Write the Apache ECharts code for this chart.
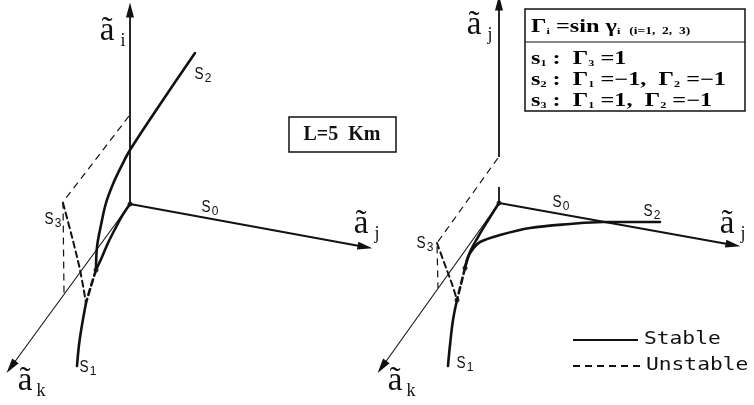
<!DOCTYPE html>
<html>
<head>
<meta charset="utf-8">
<script src="https://cdn.jsdelivr.net/npm/echarts@6/dist/echarts.min.js"></script>
<style>
  html, body { margin: 0; padding: 0; background: #fff; }
  #chart { width: 754px; height: 405px; }
</style>
</head>
<body>
<div id="chart"></div>
<script>
// ---- Left sketch (L = 5 km): coordinate axes, each [origin, arrow tip] ----
const axisI_L = [[130, 204], [130, 10]];
const axisJ_L = [[130, 204], [365, 247]];
const axisK_L = [[130, 204], [11, 367]];
const projection_L = [[129, 116], [63, 202], [64, 293]];

// ---- Left sketch: equilibrium branches ----
const s2_L = [[195, 53], [163, 100], [130, 150], [121, 167], [113, 184], [106, 203], [101, 225], [97, 247], [96, 270]];
const s1_L_stableUpper = [[130, 204], [122, 216], [115, 229], [108, 243], [102, 257], [96, 270]];
const s1_L_unstable = [[96, 270], [91, 286], [86, 303]];
const s1_L_stableLower = [[86, 303], [82, 325], [79, 345], [77, 366]];
const s3_L = [[63, 203], [72, 237], [80, 270], [86, 303]];

// ---- Right sketch: coordinate axes ----
const axisI_R = [[499, 157], [499, 3]];
const axisI_R_stub = [[499, 203], [499, 187]];
const axisJ_R = [[499, 203], [733, 245]];
const axisK_R = [[499, 203], [382, 367]];
const projection_R = [[498, 158], [437, 243], [438, 288]];

// ---- Right sketch: equilibrium branches ----
const s1_R_stableUpper = [[499, 203], [487, 222], [478, 237], [470, 252], [465, 268]];
const s1_R_unstable = [[465, 268], [461, 284], [457, 300]];
const s1_R_stableLower = [[457, 300], [453, 320], [450, 345], [448, 366]];
const s2_R = [[465, 268], [468, 257], [473, 249], [480, 242], [500, 235], [530, 228], [570, 224], [603, 222], [660, 222]];
const s3_R = [[437, 243], [445, 265], [452, 284], [457, 300]];

// junction dots
const joints = [[130, 204], [96, 270], [499, 203], [465, 268], [457, 300]];

// legend sample lines
const legendStable = [[573, 340], [638, 340]];
const legendUnstable = [[573, 366], [640, 366]];

const INK = '#111';

function curve(data, opts) {
  opts = opts || {};
  return {
    type: 'line', data: data, symbol: 'none', smooth: opts.smooth === undefined ? 0.35 : opts.smooth,
    silent: true, z: opts.z || 3,
    lineStyle: { color: INK, width: opts.width || 2.6, type: opts.dash ? [6, 4] : 'solid', cap: 'round', join: 'round' }
  };
}
function arrowAxis(data, width) {
  return {
    type: 'lines', coordinateSystem: 'cartesian2d', silent: true, z: 2,
    symbol: ['none', 'path://M0,0 L5,16 L-5,16 Z'], symbolSize: [0, [8, 15]],
    lineStyle: { color: INK, width: width, opacity: 1, curveness: 0 },
    data: [{ coords: data }]
  };
}
function straight(data, opts) {
  return {
    type: 'line', data: data, symbol: 'none', silent: true, z: 2,
    lineStyle: { color: INK, width: opts.width, type: opts.dash ? [7, 5] : 'solid' }
  };
}

const serif = 'Liberation Serif';
const sans = 'Liberation Sans';

function axisName(x, y, sub) {
  return [
    { type: 'text', x: x, y: y, style: { text: 'ã', font: '33px "' + serif + '"', fill: INK, textAlign: 'center', textVerticalAlign: 'middle' } },
    { type: 'text', x: x + 16, y: y + 10, style: { text: sub, font: '18px "' + serif + '"', fill: INK, textAlign: 'center', textVerticalAlign: 'middle' } }
  ];
}
function branchName(x, y, idx) {
  return [
    { type: 'text', x: x, y: y, scaleX: 0.85, style: { text: 'S', font: '16px "' + sans + '"', fill: INK, textAlign: 'center', textVerticalAlign: 'middle' } },
    { type: 'text', x: x + 9, y: y + 4, style: { text: idx, font: '12px "' + sans + '"', fill: INK, textAlign: 'center', textVerticalAlign: 'middle' } }
  ];
}

const boxRich = {
  b: { fontFamily: serif, fontWeight: 'bold', fontSize: 18, color: INK, lineHeight: 21, verticalAlign: 'bottom' },
  s: { fontFamily: serif, fontWeight: 'bold', fontSize: 9, color: INK, lineHeight: 15, verticalAlign: 'bottom' },
  t: { fontFamily: serif, fontWeight: 'bold', fontSize: 10, color: INK, lineHeight: 18, verticalAlign: 'bottom' }
};
function boxLine(y, text) {
  return { type: 'text', x: 531, y: y, scaleX: 1.35, style: { text: text, rich: boxRich, textVerticalAlign: 'middle' } };
}

const graphics = [].concat(
  axisName(107, 31, 'i'), axisName(361, 224, 'j'), axisName(25, 381, 'k'),
  axisName(474, 25, 'j'), axisName(727, 224, 'j'), axisName(395, 381, 'k'),
  branchName(199, 75, '2'), branchName(206, 208, '0'), branchName(49, 220, '3'), branchName(84, 368, '1'),
  branchName(557, 203, '0'), branchName(648, 212, '2'), branchName(421, 244, '3'), branchName(461, 364, '1'),
  [
    { type: 'rect', shape: { x: 289, y: 117, width: 107, height: 35 }, style: { fill: 'none', stroke: INK, lineWidth: 1.5 } },
    { type: 'text', x: 342, y: 135, style: { text: 'L=5  Km', font: 'bold 20px "' + serif + '"', fill: INK, textAlign: 'center', textVerticalAlign: 'middle' } },

    { type: 'rect', shape: { x: 525, y: 9, width: 220, height: 102 }, style: { fill: 'none', stroke: INK, lineWidth: 1.5 } },
    { type: 'line', shape: { x1: 525, y1: 42, x2: 745, y2: 42 }, style: { stroke: INK, lineWidth: 1.2 } },
    boxLine(26, '{b|Γ}{s|i}{b| =sin γ}{s|i}  {t|(i=1,  2,  3)}'),
    boxLine(58, '{b|s}{s|1}{b| :  Γ}{s|3}{b| =1}'),
    boxLine(79, '{b|s}{s|2}{b| :  Γ}{s|1}{b| =−1,  Γ}{s|2}{b| =−1}'),
    boxLine(100, '{b|s}{s|3}{b| :  Γ}{s|1}{b| =1,  Γ}{s|2}{b| =−1}'),

    { type: 'text', x: 644, y: 339, scaleX: 1.18, style: { text: 'Stable', font: '18px "DejaVu Sans Mono"', fill: INK, textVerticalAlign: 'middle' } },
    { type: 'text', x: 646, y: 365, scaleX: 1.18, style: { text: 'Unstable', font: '18px "DejaVu Sans Mono"', fill: INK, textVerticalAlign: 'middle' } }
  ]
);

const chart = echarts.init(document.getElementById('chart'), null, { renderer: 'canvas' });
chart.setOption({
  animation: false,
  backgroundColor: '#fff',
  grid: { left: 0, right: 0, top: 0, bottom: 0 },
  xAxis: { type: 'value', min: 0, max: 754, show: false },
  yAxis: { type: 'value', min: 0, max: 405, inverse: true, show: false },
  series: [
    arrowAxis(axisI_L, 1.8), arrowAxis(axisJ_L, 1.8), arrowAxis(axisK_L, 1.1),
    arrowAxis(axisI_R, 1.8), arrowAxis(axisJ_R, 1.8), arrowAxis(axisK_R, 1.1),
    straight(axisI_R_stub, { width: 1.8 }),
    straight(projection_L, { width: 1.2, dash: true }),
    straight(projection_R, { width: 1.2, dash: true }),
    curve(s2_L), curve(s1_L_stableUpper), curve(s1_L_unstable, { dash: true }), curve(s1_L_stableLower), curve(s3_L, { dash: true, width: 2 }),
    curve(s1_R_stableUpper), curve(s1_R_unstable, { dash: true }), curve(s1_R_stableLower), curve(s2_R), curve(s3_R, { dash: true, width: 2 }),
    straight(legendStable, { width: 1.8 }),
    straight(legendUnstable, { width: 1.8, dash: true }),
    {
      type: 'scatter', data: joints, symbol: 'circle', symbolSize: 5, silent: true, z: 4,
      itemStyle: { color: INK }
    }
  ],
  graphic: graphics
});
</script>
</body>
</html>
